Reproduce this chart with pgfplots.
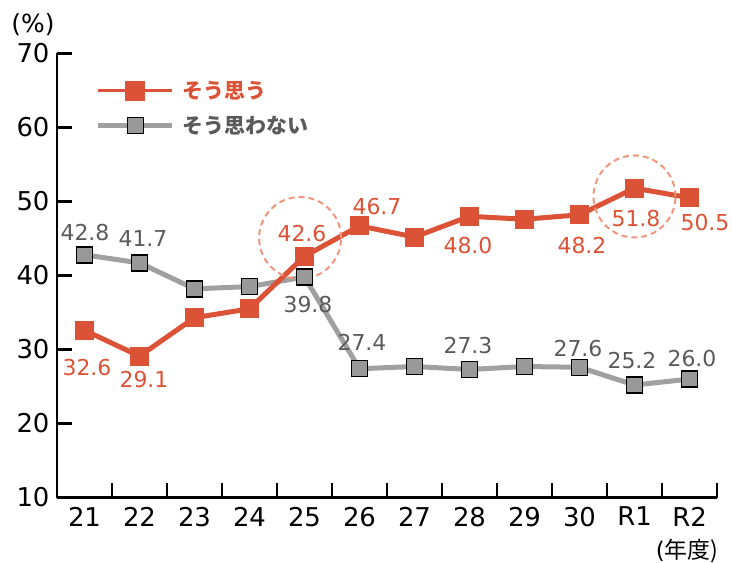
\documentclass[border=0pt]{standalone}
\usepackage{fontspec}
\setmainfont{DejaVu Sans}
\newfontfamily\jp{Noto Sans CJK JP}
\usepackage{pgfplots}
\pgfplotsset{compat=1.18}
\definecolor{myred}{HTML}{DC5236}
\definecolor{linegray}{HTML}{A0A0A0}
\definecolor{mkgray}{HTML}{999999}
\definecolor{txtgray}{HTML}{5A5A5A}
\definecolor{circ}{HTML}{EE977B}
\newcommand\rl[4]{\node[font=\fontsize{22}{22}\selectfont, text=myred, xshift=#3bp, yshift=#4bp] at (axis cs:#1) {#2};}
\newcommand\gl[4]{\node[font=\fontsize{22}{22}\selectfont, text=txtgray, xshift=#3bp, yshift=#4bp] at (axis cs:#1) {#2};}
\begin{document}
\begin{tikzpicture}
\path[use as bounding box] (-57bp,-65.5bp) rectangle (675bp,497.5bp);
\begin{axis}[
  at={(0,0)}, anchor=south west,
  width=660bp, height=444bp, scale only axis,
  xmin=0.5, xmax=12.5, ymin=10, ymax=70,
  axis lines*=left,
  axis line style={line width=2.5bp, black},
  xtick={1,...,12},
  xticklabels={21,22,23,24,25,26,27,28,29,30,R1,R2},
  minor xtick={1.5,2.5,...,12.5},
  ytick={10,20,...,70},
  tick align=inside,
  major tick length=15bp,
  minor tick length=14bp,
  every tick/.style={line width=2.5bp, black},
  every major x tick/.append style={draw=none},
  ticklabel style={font=\fontsize{26}{26}\selectfont, text=black},
  xticklabel style={yshift=-6bp},
  yticklabel style={xshift=-4bp},
  /pgf/number format/assume math mode=true,
  clip=false,
  legend style={at={(rel axis cs:0.059,0.877)}, anchor=west, draw=none, fill=none, inner sep=0pt, row sep=12bp, font=\jp\bfseries\fontsize{21}{21}\selectfont, /tikz/column 1/.style={column sep=6bp}},
  legend cell align=left,
  legend image code/.code={\draw[mark repeat=2,mark phase=2,#1] plot coordinates {(0bp,0bp) (37bp,0bp) (74bp,0bp)};},
]
\addlegendimage{myred, line width=3bp, mark=square*, mark size=9.5bp, mark options={solid, fill=myred, draw=myred, line width=0pt}}
\addlegendentry{\textcolor{myred}{そう思う}}
\addlegendimage{linegray, line width=4.5bp, mark=square*, mark size=8bp, mark options={solid, fill=mkgray, draw=black, line width=1.5bp}}
\addlegendentry{\textcolor{txtgray}{そう思わない}}

\addplot[forget plot, linegray, line width=5bp, mark=square*, mark size=8bp, mark options={solid, fill=mkgray, draw=black, line width=1.5bp}] coordinates {
(1,42.8) (2,41.7) (3,38.2) (4,38.5) (5,39.8) (6,27.4) (7,27.7) (8,27.3) (9,27.7) (10,27.6) (11,25.2) (12,26.0)};
\addplot[forget plot, myred, line width=5bp, mark=square*, mark size=9bp, mark options={solid, fill=myred, draw=myred, line width=0pt}] coordinates {
(1,32.6) (2,29.1) (3,34.3) (4,35.5) (5,42.6) (6,46.7) (7,45.2) (8,48.0) (9,47.6) (10,48.2) (11,51.8) (12,50.5)};

\draw[circ, dash pattern=on 6bp off 4bp, line width=2bp] (axis cs:4.92,45.07) circle[radius=41bp];
\draw[circ, dash pattern=on 6bp off 4bp, line width=2bp] (axis cs:11.0,50.68) circle[radius=41bp];

\rl{1,32.6}{32.6}{2.5}{-37}
\rl{2,29.1}{29.1}{4.5}{-23}
\rl{5,42.6}{42.6}{-2.5}{23}
\rl{6,46.7}{46.7}{17.5}{19}
\rl{8,48.0}{48.0}{-1.5}{-29.5}
\rl{10,48.2}{48.2}{2.5}{-31}
\rl{11,51.8}{51.8}{1.5}{-30.5}
\rl{12,50.5}{50.5}{15.5}{-25}

\gl{1,42.8}{42.8}{0.5}{22}
\gl{2,41.7}{41.7}{3.5}{24}
\gl{5,39.8}{39.8}{3.5}{-28}
\gl{6,27.4}{27.4}{2.5}{26}
\gl{8,27.3}{27.3}{-1.5}{24}
\gl{10,27.6}{27.6}{-1.5}{19}
\gl{11,25.2}{25.2}{-2.5}{24}
\gl{12,26.0}{26.0}{2.5}{21}
\end{axis}
\node[font=\fontsize{25}{25}\selectfont] at (-24bp,472.5bp) {(\%)};
\node[font=\fontsize{23}{23}\selectfont] at (630bp,-53.5bp) {(\jp 年度\/)};
\end{tikzpicture}
\end{document}
